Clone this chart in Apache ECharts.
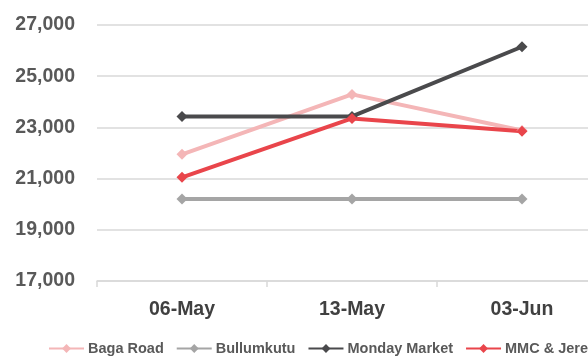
<!DOCTYPE html>
<html>
<head>
<meta charset="utf-8">
<script src="https://cdn.jsdelivr.net/npm/echarts@6/dist/echarts.min.js"></script>
<style>
  html, body { margin: 0; padding: 0; background: #fff; }
  #chart { width: 588px; height: 357px; }
</style>
</head>
<body>
<div id="chart"></div>
<script>
const categories = ['06-May', '13-May', '03-Jun'];
const bagaRoad = [21950, 24290, 22880];
const bullumkutu = [20200, 20200, 20200];
const mondayMarket = [23430, 23430, 26150];
const mmcJere = [21050, 23350, 22850];
const yTicks = { min: 17000, max: 27000, step: 2000 };

const font = '"Liberation Sans", Arial, sans-serif';
const chart = echarts.init(document.getElementById('chart'));

function line(name, data, color) {
  return {
    name, type: 'line', data,
    symbol: 'diamond', symbolSize: 11,
    lineStyle: { width: 4, color },
    itemStyle: { color },
    emphasis: { disabled: true }
  };
}

chart.setOption({
  animation: false,
  textStyle: { fontFamily: font },
  // plot runs past the right edge of the picture, so don't clamp it
  grid: { left: 97, top: 25, width: 510, bottom: 76, containLabel: false, outerBoundsMode: 'none' },
  xAxis: {
    type: 'category',
    data: categories,
    boundaryGap: true,
    axisLine: { lineStyle: { color: '#d9d9d9', width: 1.5 } },
    axisTick: { show: true, length: 6, lineStyle: { color: '#d9d9d9', width: 1.5 } },
    axisLabel: { margin: 19, fontSize: 19.5, fontWeight: 'bold', color: '#404040', fontFamily: font }
  },
  yAxis: {
    type: 'value',
    min: yTicks.min, max: yTicks.max, interval: yTicks.step,
    axisLine: { show: false },
    axisTick: { show: false },
    splitLine: { lineStyle: { color: '#d9d9d9', width: 1.5 } },
    axisLabel: {
      margin: 22, fontSize: 19.5, fontWeight: 'bold', color: '#595959', fontFamily: font,
      formatter: v => v.toLocaleString('en-US')
    }
  },
  legend: {
    left: 48, top: 341, width: 900, padding: 0,
    itemWidth: 35, itemHeight: 11, itemGap: 12,
    textStyle: { fontSize: 14.5, fontWeight: 'bold', color: '#595959', fontFamily: font, padding: [0, 0, 0, -1] },
    data: ['Baga Road', 'Bullumkutu', 'Monday Market', 'MMC & Jere']
  },
  series: [
    line('Baga Road', bagaRoad, '#f4b6b7'),
    line('Bullumkutu', bullumkutu, '#a5a5a5'),
    line('Monday Market', mondayMarket, '#4a4a4c'),
    line('MMC & Jere', mmcJere, '#e9454b')
  ]
});
</script>
</body>
</html>
